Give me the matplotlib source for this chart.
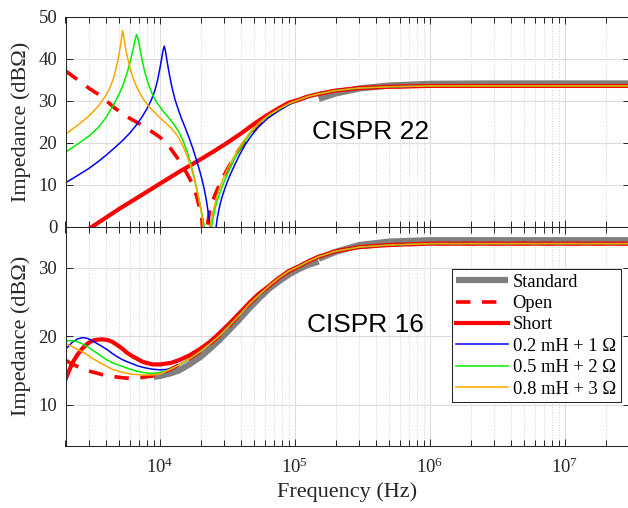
# -*- coding: utf-8 -*-
# LISN impedance: CISPR 22 (top) and CISPR 16 (bottom)

import numpy as np
import matplotlib
matplotlib.use("Agg")
import matplotlib.pyplot as plt
from matplotlib.ticker import LogLocator, NullFormatter, FixedLocator

# ---------------- data ----------------
# CISPR 22 panel
f22_std = [1.5e5, 2e5, 3e5, 5e5, 1e6, 3e6, 3e7]
z22_std = [30.4, 31.7, 32.9, 33.6, 34.0, 34.1, 34.1]

# shared high-frequency tail of all measured curves
f22_tail = [1.07e5, 1.25e5, 1.5e5, 2e5, 3e5, 5e5, 1e6, 3e7]
z22_tail = [30.2, 31.0, 31.6, 32.4, 33.0, 33.3, 33.5, 33.5]

f22_open = [2e3, 2.5e3, 3e3, 3.7e3, 4.6e3, 5.6e3, 7.5e3, 1e4, 1.2e4, 1.4e4, 1.6e4,
            1.75e4, 1.88e4, 1.98e4, 2.05e4, 2.14e4, 2.24e4, 2.34e4, 2.45e4, 2.58e4,
            2.73e4, 2.89e4, 3.1e4, 3.34e4, 3.6e4, 3.85e4, 4.5e4, 5.4e4, 6.3e4,
            7.6e4, 9e4]
z22_open = [37.1, 34.8, 32.9, 31.0, 28.3, 26.3, 24.0, 21.3, 18.6, 15.6, 12.4,
            10.0, 7.0, 4.0, 1.5, -8.0, 0.0, 4.0, 6.0, 7.8,
            9.6, 11.3, 13.2, 15.0, 16.8, 18.3, 21.3, 24.4, 26.3,
            28.0, 29.3]

f22_short = [3e3, 5e3, 7e3, 1e4, 1.4e4, 2e4, 2.5e4, 3e4, 4e4, 5e4, 6e4, 7.5e4, 9e4]
z22_short = [-0.5, 4.2, 7.1, 10.2, 13.1, 16.0, 17.9, 19.5, 22.2, 24.5, 26.2, 28.1, 29.5]

f22_l02 = [2e3, 2.5e3, 3e3, 3.5e3, 4e3, 4.6e3, 5.3e3, 6e3, 6.7e3, 7.3e3, 8e3, 8.6e3,
           9.2e3, 9.6e3, 9.95e3, 1.03e4, 1.055e4, 1.077e4, 1.1e4, 1.13e4, 1.17e4,
           1.22e4, 1.29e4, 1.37e4, 1.45e4, 1.55e4, 1.65e4, 1.75e4, 1.85e4, 1.95e4,
           2.05e4, 2.14e4, 2.22e4, 2.3e4, 2.36e4, 2.48e4, 2.6e4, 2.66e4, 2.73e4,
           2.8e4, 2.89e4, 3e4, 3.15e4, 3.3e4, 3.5e4, 3.85e4, 4.3e4, 4.8e4, 5.4e4,
           6.3e4, 7.6e4, 9e4]
z22_l02 = [10.4, 12.3, 13.9, 15.5, 17.0, 18.7, 20.5, 22.3, 24.2, 25.9, 28.0, 30.0,
           32.5, 34.8, 37.3, 40.0, 42.0, 43.0, 41.8, 39.4, 36.6,
           33.6, 30.4, 27.8, 25.6, 23.3, 21.0, 18.7, 16.2, 13.8,
           11.2, 8.6, 5.8, 2.5, 0.3, -8.0, -0.5, 2.0, 3.9,
           5.5, 7.1, 8.7, 10.6, 12.2, 14.0, 16.8, 19.6, 21.8, 23.8,
           25.8, 27.6, 29.0]

f22_l05 = [2e3, 2.4e3, 3e3, 3.5e3, 4e3, 4.5e3, 5e3, 5.4e3, 5.8e3, 6.1e3, 6.35e3,
           6.55e3, 6.73e3, 6.9e3, 7.1e3, 7.35e3, 7.7e3, 8.2e3, 8.8e3, 9.5e3,
           1.05e4, 1.15e4, 1.26e4, 1.38e4, 1.49e4, 1.6e4, 1.7e4, 1.8e4, 1.9e4,
           1.98e4, 2.06e4, 2.12e4, 2.25e4, 2.4e4, 2.47e4, 2.56e4, 2.65e4, 2.8e4,
           3e4, 3.25e4, 3.53e4, 3.85e4, 4.2e4, 4.7e4, 5.4e4, 6.3e4, 7.6e4, 9e4]
z22_l05 = [17.7, 19.4, 21.6, 23.6, 26.0, 28.8, 31.6, 34.2, 37.3, 40.0, 42.4,
           44.5, 45.8, 44.6, 42.6, 40.0, 37.0, 34.0, 31.5, 29.5,
           27.6, 26.1, 24.5, 22.6, 20.3, 17.6, 14.7, 11.6, 8.2,
           5.4, 2.5, 0.5, -8.0, -0.5, 2.0, 4.2, 6.0, 8.3,
           10.8, 13.3, 15.8, 18.0, 20.0, 22.3, 24.5, 26.3, 27.9, 29.2]

f22_l08 = [2e3, 2.5e3, 3e3, 3.5e3, 4e3, 4.3e3, 4.55e3, 4.75e3, 4.95e3, 5.1e3, 5.22e3,
           5.3e3, 5.38e3, 5.5e3, 5.65e3, 5.85e3, 6.1e3, 6.4e3, 6.7e3, 7.1e3, 7.5e3,
           8.1e3, 8.7e3, 1e4, 1.1e4, 1.2e4, 1.3e4, 1.4e4, 1.5e4, 1.6e4, 1.7e4,
           1.8e4, 1.88e4, 1.95e4, 2.02e4, 2.08e4, 2.2e4, 2.33e4, 2.4e4, 2.47e4,
           2.54e4, 2.63e4, 2.73e4, 2.9e4, 3.07e4, 3.3e4, 3.53e4, 3.85e4, 4.2e4,
           4.7e4, 5.4e4, 6.3e4, 7.6e4, 9e4]
z22_l08 = [22.0, 24.3, 26.4, 28.7, 31.3, 33.3, 35.5, 37.8, 40.5, 43.0, 45.3,
           46.7, 45.6, 43.6, 41.5, 39.3, 37.0, 35.0, 33.4, 31.8, 30.5,
           29.0, 27.9, 25.9, 24.7, 23.6, 22.3, 20.7, 18.8, 16.6, 14.1,
           11.2, 8.6, 6.2, 3.5, 1.0, -8.0, -1.0, 1.5, 3.4,
           5.0, 6.9, 8.7, 10.9, 12.8, 14.8, 16.6, 18.7, 20.5,
           22.6, 24.6, 26.4, 28.0, 29.3]

# CISPR 16 panel (standard has a step at 150 kHz)
f16_std_lo = [9e3, 1e4, 1.2e4, 1.38e4, 1.65e4, 2e4, 2.35e4, 2.74e4, 3.25e4, 3.85e4,
              4.6e4, 5.4e4, 6.4e4, 7.6e4, 9e4, 1.07e5, 1.25e5, 1.5e5]
z16_std_lo = [14.1, 14.2, 14.6, 15.0, 15.9, 17.0, 18.2, 19.4, 20.9, 22.4,
              24.1, 25.5, 26.9, 28.0, 29.0, 29.8, 30.4, 30.9]
f16_std_hi = [1.5e5, 2e5, 3e5, 5e5, 1e6, 3e6, 3e7]
z16_std_hi = [31.3, 32.3, 33.3, 33.8, 34.0, 34.0, 34.0]

f16_com = [1.2e4, 1.38e4, 1.65e4, 2e4, 2.35e4, 2.74e4, 3.25e4, 3.85e4, 4.6e4, 5.4e4,
           6.4e4, 7.6e4, 9e4, 1.07e5, 1.25e5, 1.5e5, 2e5, 3e5, 5e5, 1e6, 3e7]
z16_com = [15.2, 15.8, 16.7, 17.8, 18.9, 20.0, 21.5, 23.0, 24.7, 26.0,
           27.3, 28.5, 29.5, 30.2, 30.9, 31.6, 32.4, 33.0, 33.3, 33.5, 33.5]

f16_lo = [2e3, 2.24e3, 2.45e3, 2.66e3, 2.9e3, 3.15e3, 3.45e3, 3.74e3, 4.1e3, 4.43e3,
          4.85e3, 5.26e3, 5.7e3, 6.24e3, 6.8e3, 7.39e3, 8e3, 8.77e3, 1e4]
z16_open_lo = [16.5, 15.95, 15.6, 15.3, 15.0, 14.8, 14.6, 14.4, 14.25, 14.15,
               14.05, 13.95, 13.9, 13.9, 13.95, 14.0, 14.1, 14.2, 14.5]
z16_short_lo = [13.7, 16.05, 17.3, 18.2, 18.9, 19.35, 19.5, 19.55, 19.45, 19.2,
                18.7, 18.2, 17.6, 17.1, 16.7, 16.3, 16.1, 15.9, 15.9]
z16_l02_lo = [18.1, 19.1, 19.6, 19.8, 19.7, 19.35, 18.9, 18.5, 18.0, 17.5,
              17.0, 16.6, 16.3, 16.0, 15.7, 15.5, 15.35, 15.2, 15.1]
z16_l05_lo = [19.35, 19.35, 19.2, 18.9, 18.5, 18.0, 17.5, 17.0, 16.5, 16.15,
              15.85, 15.6, 15.35, 15.1, 14.9, 14.75, 14.65, 14.6, 14.7]
z16_l08_lo = [18.95, 18.5, 18.1, 17.75, 17.3, 16.8, 16.35, 15.95, 15.55, 15.2,
              14.95, 14.75, 14.6, 14.45, 14.4, 14.35, 14.35, 14.35, 14.5]

f16_short_mid = [1.2e4, 1.38e4, 1.65e4, 2e4, 2.35e4, 2.74e4, 3.25e4, 3.85e4, 4.6e4, 5.4e4]
z16_short_mid = [16.1, 16.5, 17.2, 18.2, 19.2, 20.4, 21.8, 23.3, 24.9, 26.2]

labels = ["Standard", "Open", "Short",
          "0.2 mH + 1 \u03a9", "0.5 mH + 2 \u03a9", "0.8 mH + 3 \u03a9"]

# ---------------- style ----------------
plt.rcParams["font.family"] = ["Liberation Serif", "DejaVu Serif"]
plt.rcParams["mathtext.fontset"] = "stix"

C_STD = "#808080"
C_RED = "#ff0000"
C_BLUE = "#0000ff"
C_GREEN = "#00ee00"
C_ORANGE = "#ffa500"
AX_COL = "#262626"

W, H = 628, 508
fig = plt.figure(figsize=(W / 100, H / 100), dpi=100)

L, R = 65.5, 629.5
ax1 = fig.add_axes([L / W, 1 - 226.5 / H, (R - L) / W, (226.5 - 16.7) / H])
ax2 = fig.add_axes([L / W, 1 - 446 / H, (R - L) / W, (446 - 226.5) / H], sharex=ax1)


def style_axes(ax):
    ax.set_xscale("log")
    ax.set_xlim(2e3, 3e7)
    ax.xaxis.set_major_locator(LogLocator(base=10, numticks=12))
    ax.xaxis.set_minor_locator(LogLocator(base=10, subs=np.arange(2, 10), numticks=100))
    ax.xaxis.set_minor_formatter(NullFormatter())
    ax.grid(True, which="major", color="#dedede", lw=0.8, ls="-")
    ax.grid(True, which="minor", axis="x", color="#d2d2d2", lw=0.7, ls=":")
    ax.set_axisbelow(True)
    ax.tick_params(which="both", direction="in", top=True, right=True,
                   color=AX_COL, width=0.7, labelsize=13.5, labelcolor="#262626")
    ax.tick_params(which="major", length=5)
    ax.tick_params(which="minor", length=4.5)
    ax.tick_params(axis="y", pad=6)
    ax.tick_params(axis="x", pad=8)
    for sp in ax.spines.values():
        sp.set_color(AX_COL)
        sp.set_linewidth(0.75)
    ax.set_ylabel("Impedance (dB\u03a9)", fontsize=16, color="#262626")
    ax.yaxis.set_label_coords(-0.062, 0.5)


style_axes(ax1)
style_axes(ax2)

dash = (4, 3.2)

# top panel
ax1.plot(f22_std, z22_std, color=C_STD, lw=4.5, solid_capstyle="butt")
ax1.plot(f22_open + f22_tail, z22_open + z22_tail, color=C_RED, lw=2.6, ls="--", dashes=dash)
ax1.plot(f22_short + f22_tail, z22_short + z22_tail, color=C_RED, lw=3.0)
ax1.plot(f22_l02 + f22_tail, z22_l02 + z22_tail, color=C_BLUE, lw=1.1)
ax1.plot(f22_l05 + f22_tail, z22_l05 + z22_tail, color=C_GREEN, lw=1.1)
ax1.plot(f22_l08 + f22_tail, z22_l08 + z22_tail, color=C_ORANGE, lw=1.1)
ax1.set_ylim(0, 50)
ax1.yaxis.set_major_locator(FixedLocator([0, 10, 20, 30, 40, 50]))
plt.setp(ax1.get_xticklabels(), visible=False)

# bottom panel
h_std, = ax2.plot(f16_std_lo, z16_std_lo, color=C_STD, lw=4.5, solid_capstyle="butt")
ax2.plot(f16_std_hi, z16_std_hi, color=C_STD, lw=4.5, solid_capstyle="butt")
h_open, = ax2.plot(f16_lo + f16_com, z16_open_lo + z16_com, color=C_RED, lw=2.6,
                   ls="--", dashes=dash)
h_short, = ax2.plot(f16_lo + f16_short_mid + f16_com[10:],
                    z16_short_lo + z16_short_mid + z16_com[10:],
                    color=C_RED, lw=3.0)
h_b, = ax2.plot(f16_lo + f16_com, z16_l02_lo + z16_com, color=C_BLUE, lw=1.1)
h_g, = ax2.plot(f16_lo + f16_com, z16_l05_lo + z16_com, color=C_GREEN, lw=1.1)
h_o, = ax2.plot(f16_lo + f16_com, z16_l08_lo + z16_com, color=C_ORANGE, lw=1.1)
ax2.set_ylim(4, 36)
ax2.yaxis.set_major_locator(FixedLocator([10, 20, 30]))
ax2.set_xlabel("Frequency (Hz)", fontsize=16, color="#262626")
ax2.xaxis.set_label_coords(0.5, -0.165)

leg = ax2.legend([h_std, h_open, h_short, h_b, h_g, h_o], labels,
                 loc="upper left", bbox_to_anchor=(451.7 / W, 1 - 269 / H),
                 bbox_transform=fig.transFigure, borderaxespad=0,
                 fontsize=13.3, frameon=True, fancybox=False, framealpha=1,
                 edgecolor=AX_COL, handlelength=2.8, handletextpad=0.25,
                 borderpad=0.25, labelspacing=0.24)
leg.get_frame().set_linewidth(0.75)

fig.text(311.7 / W, 1 - 139.3 / H, "CISPR 22", family="Liberation Sans",
         fontsize=19, va="baseline", ha="left")
fig.text(306.7 / W, 1 - 331.7 / H, "CISPR 16", family="Liberation Sans",
         fontsize=19, va="baseline", ha="left")

fig.savefig("out.png", dpi=100)
